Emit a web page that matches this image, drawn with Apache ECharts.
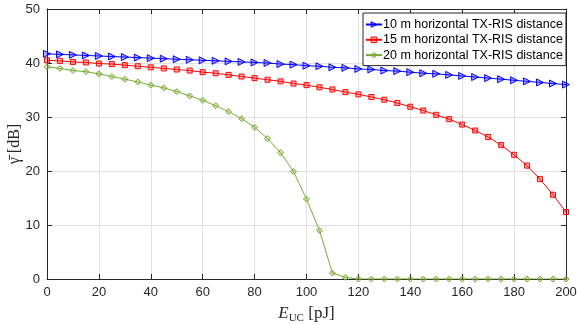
<!DOCTYPE html>
<html><head><meta charset="utf-8">
<script src="https://cdn.jsdelivr.net/npm/echarts@6/dist/echarts.min.js"></script>
<style>html,body{margin:0;padding:0;background:#fff}#c{width:577px;height:325px}</style>
</head><body><div id="c"></div>
<script>
const xValues = [0,5,10,15,20,25,30,35,40,45,50,55,60,65,70,75,80,85,90,95,100,105,110,115,120,125,130,135,140,145,150,155,160,165,170,175,180,185,190,195,200];
const seriesNames = ['10 m horizontal TX-RIS distance','15 m horizontal TX-RIS distance','20 m horizontal TX-RIS distance'];
const blue10m = [41.7,41.6,41.5,41.4,41.3,41.2,41.1,41.0,40.9,40.8,40.7,40.6,40.5,40.4,40.3,40.2,40.1,40.0,39.8,39.7,39.5,39.4,39.2,39.1,38.9,38.8,38.6,38.5,38.3,38.1,38.0,37.8,37.6,37.4,37.2,37.0,36.8,36.6,36.4,36.2,36.0];
const red15m = [40.5,40.4,40.2,40.1,39.9,39.8,39.6,39.4,39.2,39.0,38.8,38.6,38.3,38.1,37.8,37.5,37.2,36.9,36.6,36.2,35.9,35.5,35.1,34.6,34.2,33.7,33.2,32.6,31.9,31.2,30.4,29.6,28.6,27.5,26.3,24.8,23.0,21.0,18.5,15.6,12.4];
const green20m = [39.3,39.0,38.6,38.4,38.0,37.5,37.0,36.5,35.9,35.4,34.7,33.9,33.1,32.1,31.0,29.7,28.1,26.0,23.4,19.9,14.8,9.0,1.1,0.3,0,0,0,0,0,0,0,0,0,0,0,0,0,0,0,0,0];
const xTicks = [0,20,40,60,80,100,120,140,160,180,200];
const yTicks = [0,10,20,30,40,50];

const chart = echarts.init(document.getElementById('c'), null, {renderer:'canvas'});
const pair = arr => xValues.map((x,i)=>[x,arr[i]]);
const font = 'Helvetica, "Liberation Sans", Arial, sans-serif';
const serif = '"Liberation Serif","DejaVu Serif",serif';
const axisCommon = {
  axisLine:{show:true,onZero:false,lineStyle:{color:'#262626',width:1}},
  axisTick:{show:true,inside:true,length:5,lineStyle:{color:'#262626'}},
  splitLine:{show:true,lineStyle:{color:'#e0e0e0',width:1}},
  axisLabel:{color:'#262626',fontSize:13,fontFamily:font,margin:7}
};
const styles = [
  {color:'#0000ff', fill:'rgba(0,0,255,0.3)', symbol:'path://M0,0 L10,5 L0,10 Z', size:7},
  {color:'#ff0000', fill:'rgba(255,0,0,0.3)', symbol:'rect', size:5},
  {color:'#77ac30', fill:'rgba(119,172,48,0.3)', symbol:'diamond', size:6}
];
const mk = (i, data) => ({
  name:seriesNames[i], type:'line', data:pair(data), symbol:styles[i].symbol, symbolSize:styles[i].size,
  showAllSymbol:true, animation:false,
  lineStyle:{color:styles[i].color, width:1},
  itemStyle:{color:styles[i].fill, borderColor:styles[i].color, borderWidth:1}
});
chart.setOption({
  animation:false,
  backgroundColor:'#fff',
  grid:{left:47,right:11,top:9,bottom:46,containLabel:false,outerBoundsMode:'none'},
  xAxis:[Object.assign({type:'value',min:0,max:200,interval:20,
    name:'{e|E}{s|UC} {n|[pJ]}', nameLocation:'middle', nameGap:25,
    nameTextStyle:{rich:{e:{fontFamily:serif,fontStyle:'italic',fontSize:17,color:'#262626'},
      s:{fontFamily:serif,fontSize:11,color:'#262626',verticalAlign:'bottom',padding:[9,1,0,0]},
      n:{fontFamily:serif,fontSize:17,color:'#262626'}}}
  },axisCommon),
  Object.assign({},axisCommon,{type:'value',min:0,max:200,interval:20,position:'top',axisLabel:{show:false},splitLine:{show:false}})],
  yAxis:[Object.assign({type:'value',min:0,max:50,interval:10,
    name:'\u03B3\u0304 [dB]', nameLocation:'middle', nameGap:24, nameRotate:90, nameMoveOverlap:false,
    nameTextStyle:{fontFamily:serif,fontSize:16,color:'#262626'}
  },axisCommon),
  Object.assign({},axisCommon,{type:'value',min:0,max:50,interval:10,position:'right',axisLabel:{show:false},splitLine:{show:false}})],
  legend:{
    left:363, top:13, orient:'vertical', itemGap:2.3, itemWidth:16, itemHeight:7,
    padding:[5,3,4,2],
    backgroundColor:'#fff', borderColor:'#262626', borderWidth:1,
    textStyle:{fontSize:12.5,fontFamily:font,color:'#000',padding:[0,0,0,-4]},
    data:seriesNames.map((n,i)=>({name:n,
      itemStyle:{color:styles[i].fill, borderColor:styles[i].color, borderWidth:1}}))
  },
  series:[ mk(0, blue10m), mk(1, red15m), mk(2, green20m) ]
});
</script></body></html>
